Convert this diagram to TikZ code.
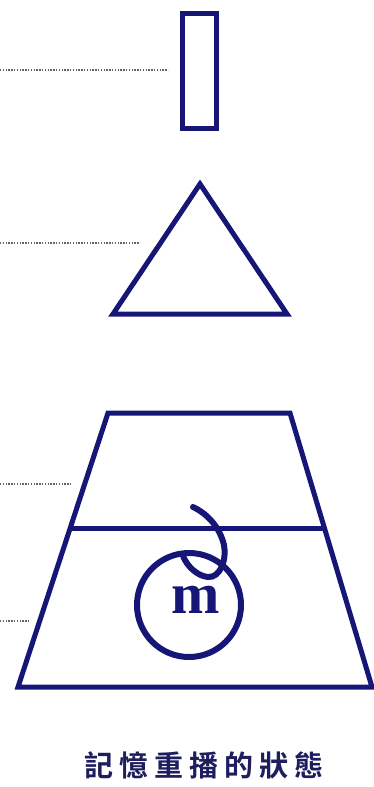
\documentclass[tikz,border=0pt]{standalone}
\usepackage{fontspec}
\setmainfont{Liberation Serif}
\newfontfamily\cjk{Noto Sans CJK TC}[BoldFont={Noto Sans CJK TC Bold}]
\definecolor{navy}{RGB}{22,22,118}
\definecolor{txtnavy}{RGB}{30,30,95}
\definecolor{dotgray}{RGB}{100,100,100}
\tikzset{
  shapeline/.style={draw=navy, line width=5pt, line join=miter},
  guide/.style={draw=dotgray, line width=1.1pt, dash pattern=on 1.4pt off 1.4pt},
}
\begin{document}
\begin{tikzpicture}[x=1pt,y=-1pt]
\useasboundingbox (0,0) rectangle (374,787);
% guides
\coordinate (g1a) at (0,70);   \coordinate (g1b) at (168,70);
\coordinate (g2a) at (0,243);  \coordinate (g2b) at (140,243);
\coordinate (g3a) at (0,484);  \coordinate (g3b) at (72,484);
\coordinate (g4a) at (0,621);  \coordinate (g4b) at (30,621);
\draw[guide] (g1a) -- (g1b);
\draw[guide] (g2a) -- (g2b);
\draw[guide] (g3a) -- (g3b);
\draw[guide] (g4a) -- (g4b);
% rectangle
\draw[shapeline] (182,13) rectangle (216,128);
% triangle
\draw[shapeline] (200,184) -- (287,314) -- (113,314) -- cycle;
% trapezoid
\draw[shapeline] (108,413) -- (290,413) -- (372,687) -- (18,687) -- cycle;
\draw[shapeline] (72,528) -- (325,528);
% circle and spiral
\draw[draw=navy, line width=6pt] (189,605) circle[radius=52];
\draw[draw=navy, line width=6pt, line cap=round]
  (193,507) .. controls (208,514) and (220,528) .. (224,545)
  .. controls (227,560) and (220,578) .. (208,577)
  .. controls (197,576) and (187,566) .. (183,556);
\node[text=navy, font=\fontsize{58}{58}\selectfont\bfseries] (m) at (196,600) {m};
% caption
\node[text=txtnavy, font=\cjk\bfseries\fontsize{29}{29}\selectfont] (cap) at (204,765)
  {記\kern6pt 憶\kern6pt 重\kern6pt 播\kern6pt 的\kern6pt 狀\kern6pt 態};
\end{tikzpicture}
\end{document}
